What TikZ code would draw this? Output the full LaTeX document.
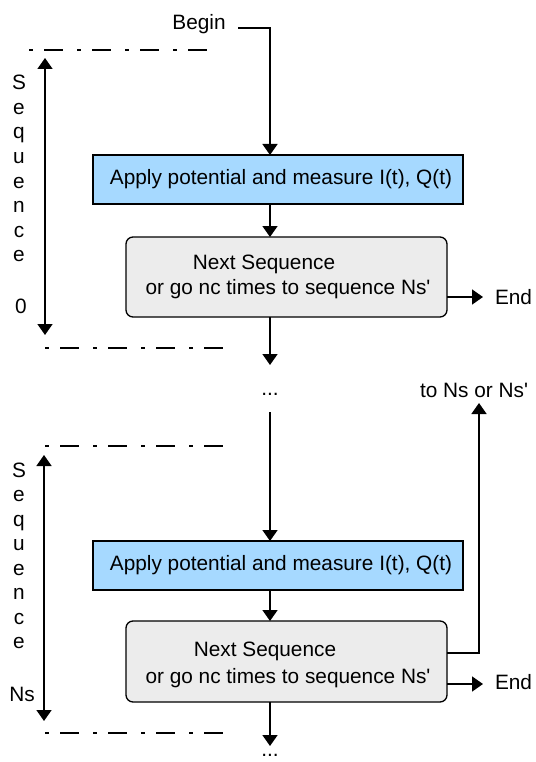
\documentclass[tikz,border=0pt]{standalone}
\usepackage{fontspec}
\setmainfont{Liberation Sans}
\usetikzlibrary{arrows.meta}
\definecolor{stepblue}{RGB}{166,217,255}
\definecolor{stepgray}{RGB}{236,236,236}
\begin{document}
\begin{tikzpicture}[x=1pt,y=-1pt,
  every node/.style={inner sep=0pt, outer sep=0pt, font=\fontsize{20.8}{25}\selectfont},
  lbl/.style={anchor=base},
  tip/.tip={Triangle[length=11pt,width=15pt]},
  flow/.style={line width=1.6pt, -tip},
  span/.style={line width=1.6pt, tip-tip},
  bound/.style={line width=1.8pt, dash pattern=on 4pt off 11pt on 19pt off 14pt},
  measure/.style={draw, line width=1.3pt, fill=stepblue, minimum width=370pt, minimum height=49pt},
  decide/.style={draw, line width=1.3pt, fill=stepgray, rounded corners=7pt, minimum width=321pt, minimum height=80pt},
]
\useasboundingbox[fill=white] (0,0) rectangle (535,762);

% main flow column
\coordinate (col) at (270,0);

% ---------- sequence 0 ----------
\node[lbl] (begin) at (199,30) {Begin};
\coordinate (beginstub) at (238,28);

\node[measure] (m1) at (278,179.5) {};
\node (m1t) at (281,179.5) {Apply potential and measure I(t), Q(t)};
\node[decide] (d1) at (286.5,277) {};
\node[lbl] (d1a) at (264,269) {Next Sequence};
\node[lbl] (d1b) at (288,294) {or go nc times to sequence Ns\textquotesingle};

\draw[flow] (beginstub) -| (m1.north -| col);
\draw[flow] (m1.south -| col) -- (d1.north -| col);

\coordinate (e1) at (483,297);
\node[lbl, anchor=base west] (end1) at (495,304) {End};
\draw[flow] (d1.east |- e1) -- (e1);

\coordinate (gap1) at (270,365);
\draw[flow] (d1.south -| col) -- (gap1);
\node[lbl] (dots1) at (270,395) {...};

% sequence 0 bracket
\draw[bound] (29,50) -- (207,50);
\draw[bound] (45,348) -- (223,348);
\coordinate (s1top) at (45,58);
\coordinate (s1bot) at (45,335);
\draw[span] (s1top) -- (s1bot);
\foreach \ch [count=\i from 0] in {S,e,q,u,e,n,c,e}
  \node[lbl] (sa\i) at (19,90+24.5*\i) {\ch};
\node[lbl] (idx0) at (21,313) {0};

% ---------- sequence Ns ----------
\coordinate (resume) at (270,412);
\node[measure] (m2) at (278,565.5) {};
\node (m2t) at (281,565.5) {Apply potential and measure I(t), Q(t)};
\node[decide, minimum height=81pt] (d2) at (286.5,661.5) {};
\node[lbl] (d2a) at (265,656) {Next Sequence};
\node[lbl] (d2b) at (288,683) {or go nc times to sequence Ns\textquotesingle};

\draw[flow] (resume) -- (m2.north -| col);
\draw[flow] (m2.south -| col) -- (d2.north -| col);

\coordinate (e2) at (483,684);
\node[lbl, anchor=base west] (end2) at (495,689) {End};
\draw[flow] (d2.east |- e2) -- (e2);

% jump back
\node[lbl] (target) at (474,397) {to Ns or Ns\textquotesingle};
\coordinate (back) at (479,403);
\draw[flow] ([yshift=8.5pt]d2.east) -| (back);

\coordinate (gap2) at (270,746);
\draw[flow] (d2.south -| col) -- (gap2);
\node[lbl] (dots2) at (270,756) {...};

% sequence Ns bracket
\draw[bound] (45,446) -- (223,446);
\draw[bound] (45,733) -- (223,733);
\coordinate (s2top) at (44,455);
\coordinate (s2bot) at (44,721);
\draw[span] (s2top) -- (s2bot);
\foreach \ch [count=\i from 0] in {S,e,q,u,e,n,c,e}
  \node[lbl] (sb\i) at (19,477+24.5*\i) {\ch};
\node[lbl] (idxN) at (22,701) {Ns};
\end{tikzpicture}
\end{document}
